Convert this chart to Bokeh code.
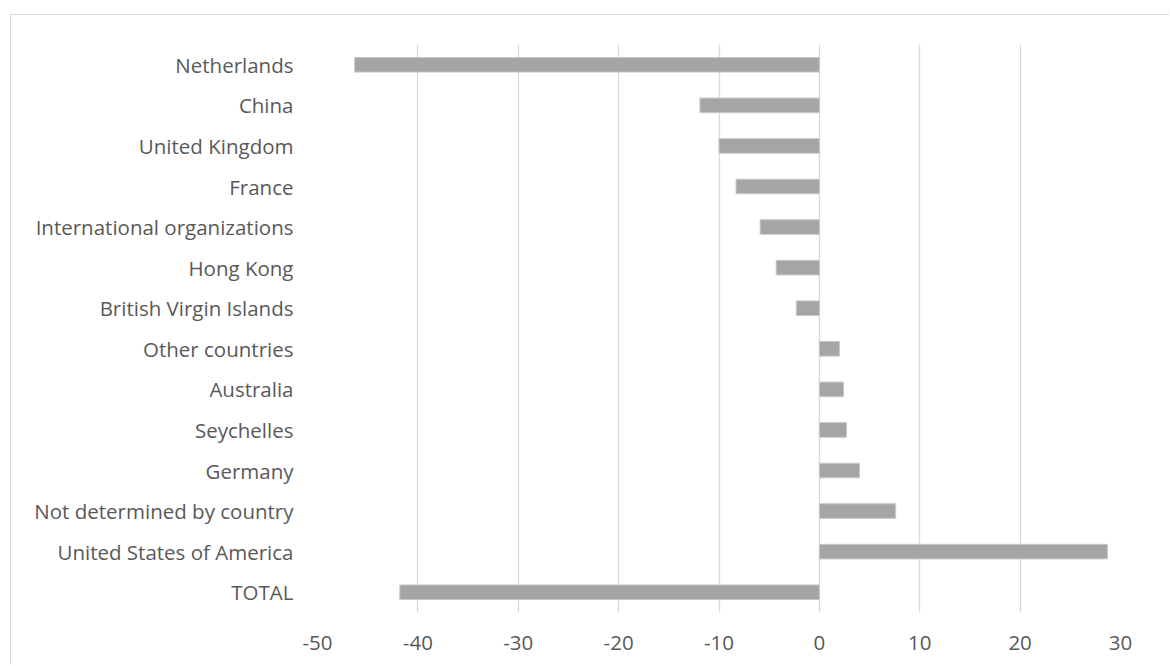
from bokeh.plotting import figure
from bokeh.models import ColumnDataSource, FactorRange, FixedTicker, Range1d
from bokeh.embed import file_html
from bokeh.resources import INLINE

# Change by partner country (top to bottom as displayed)
countries = [
    "Netherlands",
    "China",
    "United Kingdom",
    "France",
    "International organizations",
    "Hong Kong",
    "British Virgin Islands",
    "Other countries",
    "Australia",
    "Seychelles",
    "Germany",
    "Not determined by country",
    "United States of America",
    "TOTAL",
]
values = [-46.3, -11.9, -10.0, -8.3, -5.9, -4.3, -2.3,
          2.0, 2.4, 2.7, 4.0, 7.6, 28.7, -41.8]
x_ticks = [-50, -40, -30, -20, -10, 0, 10, 20, 30]

FONT = "Open Sans"
TEXT = "#595959"
GRID = "#d9d9d9"

source = ColumnDataSource(dict(country=countries, value=values))

p = figure(
    width=1159,
    height=651,
    y_range=FactorRange(*reversed(countries), range_padding=0),
    x_range=Range1d(-50, 30),
    output_backend="svg",
    toolbar_location=None,
    min_border_left=306,
    min_border_right=50,
    min_border_top=29,
    min_border_bottom=54,
)
p.margin = (14, 0, 0, 10)
p.styles = {
    "border-top": "1px solid #d9d9d9",
    "border-left": "1px solid #d9d9d9",
}

p.hbar(y="country", left=0, right="value", height=0.36, source=source,
       fill_color="#a5a5a5", line_color="#c8c8c8", line_width=1)

p.outline_line_color = None
p.background_fill_color = "white"
p.border_fill_color = "white"

p.ygrid.grid_line_color = None
p.xgrid.grid_line_color = GRID
p.xgrid.grid_line_width = 1.3
p.xgrid.ticker = FixedTicker(ticks=x_ticks)

p.xaxis.ticker = FixedTicker(ticks=x_ticks)
# plain hyphen for negative tick labels
p.xaxis.major_label_overrides = {t: str(t) for t in x_ticks}
for ax in (p.xaxis[0], p.yaxis[0]):
    ax.axis_line_color = None
    ax.major_tick_line_color = None
    ax.minor_tick_line_color = None
    ax.major_tick_out = 0
    ax.major_tick_in = 0
    ax.major_label_text_font = FONT
    ax.major_label_text_font_size = "20.5px"
    ax.major_label_text_color = TEXT

p.xaxis.major_label_standoff = 23
p.yaxis.major_label_standoff = 24

open("out.html", "w").write(file_html(p, INLINE))
